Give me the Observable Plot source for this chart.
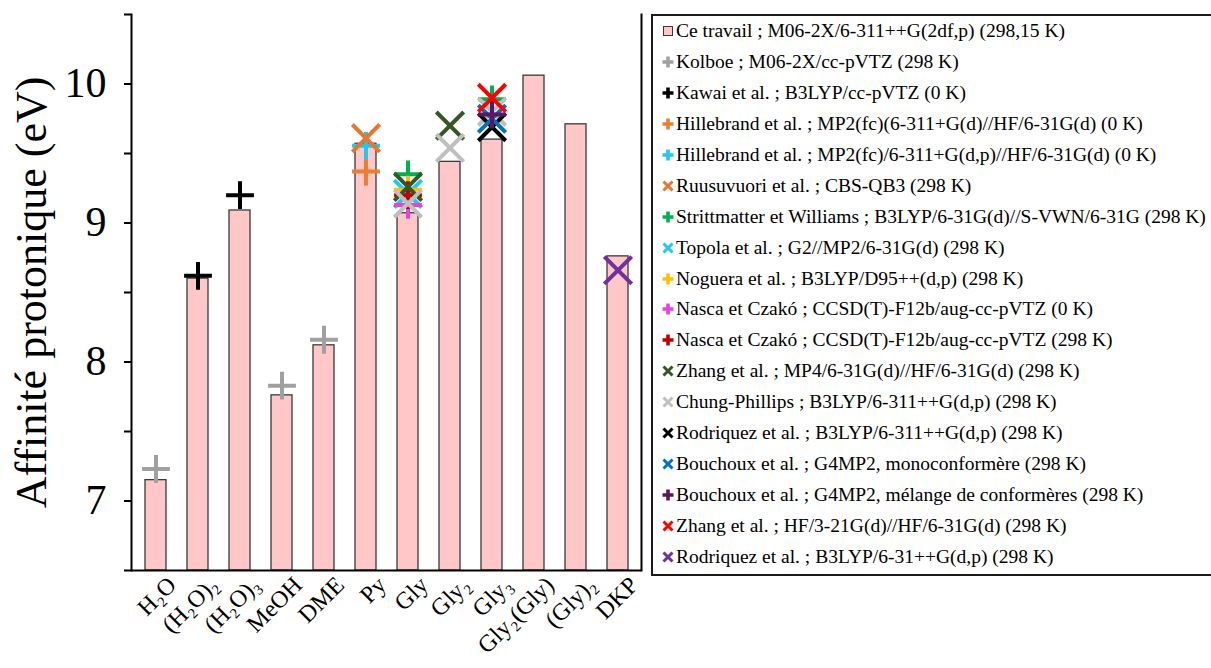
<!DOCTYPE html>
<html>
<head>
<meta charset="utf-8">
<script src="https://cdn.jsdelivr.net/npm/d3@7"></script>
<script src="https://cdn.jsdelivr.net/npm/@observablehq/plot@0.6"></script>
<style>
  html, body { margin: 0; padding: 0; background: white; overflow: hidden; }
  #wrap { position: relative; width: 1211px; height: 668px; overflow: hidden; background: white; }
  #chart { position: absolute; left: 0; top: 0; }
  #legend { position: absolute; left: 651px; top: 14px; width: 600px; height: 562px;
            border: 2px solid #1a1a1a; box-sizing: border-box; font-family: "Liberation Serif", "Times New Roman", serif;
            font-size: 19.5px; color: #000; padding-top: 0px; }
  .row { height: 30.9px; display: flex; align-items: center; white-space: nowrap; }
  .row svg { margin-left: 9px; margin-right: 2px; flex: none; }
</style>
</head>
<body>
<div id="wrap">
  <div id="chart"></div>
  <div id="legend"></div>
</div>
<script>
// ---- Data ----
const categories = ["H2O", "(H2O)2", "(H2O)3", "MeOH", "DME", "Py", "Gly", "Gly2", "Gly3", "Gly2(Gly)", "(Gly)2", "DKP"];
const tickLabels = ["H₂O", "(H₂O)₂", "(H₂O)₃", "MeOH", "DME", "Py", "Gly", "Gly₂", "Gly₃", "Gly₂(Gly)", "(Gly)₂", "DKP"];
const ceTravail = [7.15, 8.6, 9.09, 7.76, 8.12, 9.57, 9.07, 9.44, 9.6, 10.06, 9.71, 8.76];

const yDomain = [6.5, 10.5];
const yTicks = [6.5, 7, 7.5, 8, 8.5, 9, 9.5, 10, 10.5];

const kolboe = [["H2O", 7.23], ["MeOH", 7.83], ["DME", 8.16]];
const kawai = [["(H2O)2", 8.62], ["(H2O)3", 9.2]];
const hillebrand1 = [["Py", 9.37]];
const hillebrand2 = [["Py", 9.555]];
const ruusuvuori = [["Py", 9.61]];
const strittmatter = [["Gly", 9.35], ["Gly3", 9.89]];
const topola = [["Gly", 9.21]];
const noguera = [["Gly", 9.24]];
const nasca0 = [["Gly", 9.13]];
const nasca298 = [["Gly", 9.2]];
const zhangMP4 = [["Gly", 9.26], ["Gly2", 9.7]];
const chungPhillips = [["Gly", 9.14], ["Gly2", 9.54], ["Gly3", 9.8]];
const rodriquez311 = [["Gly3", 9.69]];
const bouchouxMono = [["Gly3", 9.75]];
const bouchouxMel = [["Gly3", 9.78]];
const zhangHF = [["Gly3", 9.9]];
const rodriquez31 = [["DKP", 8.66]];

const barLabel = "Ce travail ; M06-2X/6-311++G(2df,p) (298,15 K)";
const series = [
  {name: "Kolboe ; M06-2X/cc-pVTZ (298 K)", symbol: "plus", color: "#a0a0a0", pts: kolboe},
  {name: "Kawai et al. ; B3LYP/cc-pVTZ  (0 K)", symbol: "plus", color: "#000000", pts: kawai},
  {name: "Hillebrand et al. ; MP2(fc)(6-311+G(d)//HF/6-31G(d) (0 K)", symbol: "plus", color: "#ed7d31", pts: hillebrand1},
  {name: "Hillebrand et al. ; MP2(fc)/6-311+G(d,p)//HF/6-31G(d) (0 K)", symbol: "plus", color: "#1ec8f0", pts: hillebrand2},
  {name: "Ruusuvuori et al. ; CBS-QB3 (298 K)", symbol: "times", color: "#e8762f", pts: ruusuvuori},
  {name: "Strittmatter et Williams ; B3LYP/6-31G(d)//S-VWN/6-31G (298 K)", symbol: "plus", color: "#00b050", pts: strittmatter},
  {name: "Topola et al. ; G2//MP2/6-31G(d) (298 K)", symbol: "times", color: "#1ec8f0", pts: topola},
  {name: "Noguera et al. ; B3LYP/D95++(d,p) (298 K)", symbol: "plus", color: "#ffc000", pts: noguera},
  {name: "Nasca et Czakó ; CCSD(T)-F12b/aug-cc-pVTZ (0 K)", symbol: "plus", color: "#ee3ee0", pts: nasca0},
  {name: "Nasca et Czakó ; CCSD(T)-F12b/aug-cc-pVTZ  (298 K)", symbol: "plus", color: "#c00000", pts: nasca298},
  {name: "Zhang et al. ; MP4/6-31G(d)//HF/6-31G(d) (298 K)", symbol: "times", color: "#375623", pts: zhangMP4},
  {name: "Chung-Phillips ; B3LYP/6-311++G(d,p) (298 K)", symbol: "times", color: "#bfbfbf", pts: chungPhillips},
  {name: "Rodriquez et al. ; B3LYP/6-311++G(d,p) (298 K)", symbol: "times", color: "#000000", pts: rodriquez311},
  {name: "Bouchoux et al. ; G4MP2, monoconformère (298 K)", symbol: "times", color: "#0070c0", pts: bouchouxMono},
  {name: "Bouchoux et al. ; G4MP2, mélange de conformères (298 K)", symbol: "plus", color: "#5b175f", pts: bouchouxMel},
  {name: "Zhang et al. ; HF/3-21G(d)//HF/6-31G(d) (298 K)", symbol: "times", color: "#ff0000", pts: zhangHF},
  {name: "Rodriquez et al. ; B3LYP/6-31++G(d,p) (298 K)", symbol: "times", color: "#7030a0", pts: rodriquez31}
];

// ---- Chart ----
const FONT = "Liberation Serif, Times New Roman, serif";
const bars = categories.map((c, i) => ({cat: c, value: ceTravail[i]}));
const labelOf = new Map(categories.map((c, i) => [c, tickLabels[i]]));

const dotMarks = series.map(s => Plot.dot(s.pts, {
  x: d => d[0], y: d => d[1], symbol: s.symbol, stroke: s.color,
  r: s.symbol === "plus" ? 9 : 12.5, strokeWidth: 4
}));

const chart = Plot.plot({
  width: 645, height: 668,
  marginLeft: 131, marginRight: 4, marginTop: 14, marginBottom: 98,
  x: {domain: categories, paddingInner: 0.5, paddingOuter: 0.25, axis: null},
  y: {domain: yDomain},
  style: {fontFamily: FONT, color: "black", background: "white", overflow: "visible"},
  marks: [
    Plot.barY(bars, {x: "cat", y1: yDomain[0], y2: "value", fill: "#ffc7c7", stroke: "#3a3a3a", strokeWidth: 1.3}),
    ...dotMarks,
    Plot.axisY({ticks: yTicks, tickSize: 7, tickPadding: 18, strokeWidth: 2,
      tickFormat: d => Number.isInteger(d) ? String(d) : "", fontSize: 42, label: null}),
    Plot.text(categories, {x: d => d, text: d => labelOf.get(d), frameAnchor: "bottom",
      textAnchor: "end", lineAnchor: "middle", fontSize: 24, fill: "black"}),
    Plot.frame({anchor: "left", stroke: "black", strokeWidth: 2}),
    Plot.frame({anchor: "right", stroke: "black", strokeWidth: 2}),
    Plot.ruleY([yDomain[0]], {stroke: "black", strokeWidth: 2}),
    Plot.text(["Affinité protonique (eV)"], {text: d => d, frameAnchor: "left", dx: -100, rotate: -90,
      textAnchor: "middle", fontSize: 44, fill: "black"})
  ]
});
document.getElementById("chart").appendChild(chart);

// Rotate x labels by -45° with a wrapping group at each band centre (positions from Plot's x scale)
const xs = chart.scale("x"), ys = chart.scale("y");
const LABEL_DX = 11, LABEL_DY = 16;
const labelIndex = new Map(tickLabels.map((t, i) => [t, i]));
Array.from(chart.querySelectorAll("text")).forEach(el => {
  const i = labelIndex.get(el.textContent);
  if (i === undefined) return;
  const X = xs.apply(categories[i]) + xs.bandwidth / 2 + LABEL_DX;
  const Y = ys.apply(yDomain[0]) + LABEL_DY;
  const g = document.createElementNS("http://www.w3.org/2000/svg", "g");
  g.setAttribute("transform", `translate(${X},${Y}) rotate(-45)`);
  el.parentNode.insertBefore(g, el);
  g.appendChild(el);
  el.removeAttribute("transform");
  el.removeAttribute("x");
  el.removeAttribute("y");
});

// ---- Legend ----
const legend = d3.select("#legend");
function symbolSvg(row, kind, color) {
  const svg = row.append("svg").attr("width", 12).attr("height", 12).attr("viewBox", "-6 -6 12 12");
  if (kind === "square") {
    svg.append("rect").attr("x", -4.5).attr("y", -4.5).attr("width", 9).attr("height", 9)
      .attr("fill", "#ffc7c7").attr("stroke", "#3a3a3a").attr("stroke-width", 1);
  } else if (kind === "plus") {
    svg.append("path").attr("d", "M-5.5,0H5.5M0,-5.5V5.5").attr("stroke", color).attr("stroke-width", 3.6);
  } else {
    svg.append("path").attr("d", "M-4.5,-4.5L4.5,4.5M4.5,-4.5L-4.5,4.5").attr("stroke", color).attr("stroke-width", 3);
  }
}
const r0 = legend.append("div").attr("class", "row");
symbolSvg(r0, "square");
r0.append("span").text(barLabel);
for (const s of series) {
  const r = legend.append("div").attr("class", "row");
  symbolSvg(r, s.symbol, s.color);
  r.append("span").text(s.name);
}
</script>
</body>
</html>
